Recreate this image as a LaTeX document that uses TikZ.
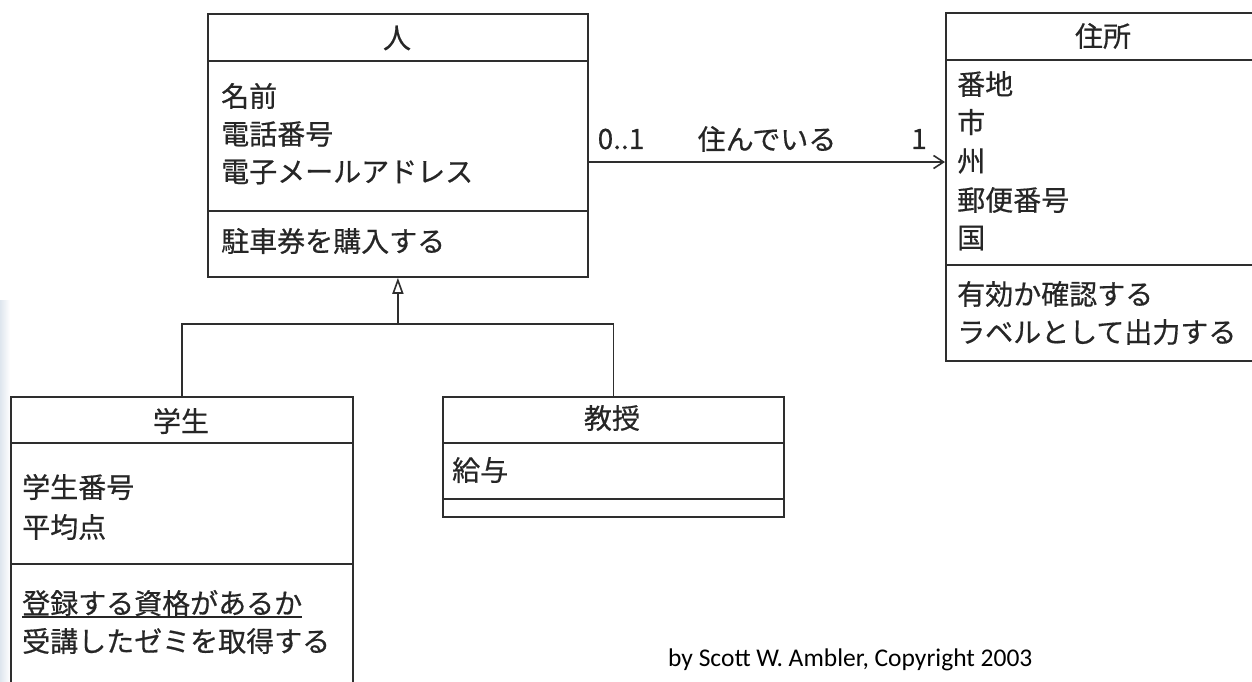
\documentclass[tikz,border=0pt]{standalone}
\usepackage{fontspec}
\setmainfont{Noto Sans CJK JP}[FakeBold=0.5]
\newfontfamily\carlito{Carlito}
\usetikzlibrary{arrows.meta,calc}
\definecolor{ink}{HTML}{262626}
\definecolor{edge}{HTML}{2E2E2E}
\definecolor{haze}{RGB}{222,230,238}
\begin{document}
\begin{tikzpicture}[x=1pt,y=-1pt,
  classbox/.style={draw=edge, line width=1.8pt, inner sep=0pt, anchor=north west, fill=white},
  divider/.style={draw=edge, line width=1.8pt},
  txt/.style={inner sep=0pt, anchor=west, text=ink, font=\fontsize{28}{36}\selectfont},
  ctxt/.style={inner sep=0pt, anchor=center, text=ink, font=\fontsize{28}{36}\selectfont},
  conn/.style={draw=edge, line width=1.8pt},
  inh/.style={conn, -{Triangle[open, length=16pt, width=11pt, line width=1.6pt]}},
  nav/.style={conn, -{Straight Barb[length=10pt, width=13pt, line width=1.6pt]}}]
\useasboundingbox (0,0) rectangle (1252,681);
\fill[white] (0,0) rectangle (1252,681);
\shade[left color=haze, right color=white] (0,300) rectangle (10,681);
\clip (0,0) rectangle (1252,681);

% ---- Person
\node[classbox, minimum width=380, minimum height=263] (person) at (207,13) {};
\draw[divider] (person.west |- 0,61) -- (person.east |- 0,61);
\draw[divider] (person.west |- 0,211) -- (person.east |- 0,211);
\node[ctxt] (pname) at (397,38) {人};
\node[txt] (p1) at (221,96) {名前};
\node[txt] (p2) at (221,134) {電話番号};
\node[txt] (p3) at (221,172) {電子メールアドレス};
\node[txt] (p4) at (221,241) {駐車券を購入する};

% ---- Address
\node[classbox, minimum width=320, minimum height=348] (address) at (945,12) {};
\draw[divider] (address.west |- 0,60) -- (address.east |- 0,60);
\draw[divider] (address.west |- 0,265) -- (address.east |- 0,265);
\node[ctxt] (aname) at (1103,36) {住所};
\node[txt] (a1) at (957,84) {番地};
\node[txt] (a2) at (957,122) {市};
\node[txt] (a3) at (957,161) {州};
\node[txt] (a4) at (957,200) {郵便番号};
\node[txt] (a5) at (957,238) {国};
\node[txt] (a6) at (957,294) {有効か確認する};
\node[txt] (a7) at (957,332) {ラベルとして出力する};

% ---- Student
\node[classbox, minimum width=342, minimum height=320] (student) at (10,396) {};
\draw[divider] (student.west |- 0,443) -- (student.east |- 0,443);
\draw[divider] (student.west |- 0,564) -- (student.east |- 0,564);
\node[ctxt] (sname) at (181,421) {学生};
\node[txt] (s1) at (22,487) {学生番号};
\node[txt] (s2) at (22,527) {平均点};
\node[txt] (s3) at (22,603) {登録する資格があるか};
\draw[draw=ink, line width=1.3pt] ($(s3.west)+(0,14)$) -- ($(s3.east)+(0,14)$);
\node[txt] (s4) at (22,641) {受講したゼミを取得する};

% ---- Professor
\node[classbox, minimum width=341, minimum height=120] (prof) at (442,396) {};
\draw[divider] (prof.west |- 0,443) -- (prof.east |- 0,443);
\draw[divider] (prof.west |- 0,499) -- (prof.east |- 0,499);
\node[ctxt] (prname) at (612,418) {教授};
\node[txt] (pr1) at (452,470) {給与};

% ---- Generalisation
\coordinate (junction) at (person.south |- 0,324);
\draw[conn] (student.north) |- (junction) -| (prof.north);
\draw[inh] (junction) -- (person.south);

% ---- Association
\path (person.north east) ++(0,149) coordinate (assocstart);
\draw[nav] (assocstart) -- (assocstart -| address.west);
\node[ctxt] (mult1) at (621,139) {0..1};
\node[ctxt] (role) at (767,139) {住んでいる};
\node[ctxt] (mult2) at (919,139) {1};

% ---- Credit
\node[inner sep=0pt, anchor=west, text=black, font=\carlito\fontsize{25.5}{30}\selectfont] (credit) at (668,660) {by Scott W. Ambler, Copyright 2003};
\end{tikzpicture}
\end{document}
